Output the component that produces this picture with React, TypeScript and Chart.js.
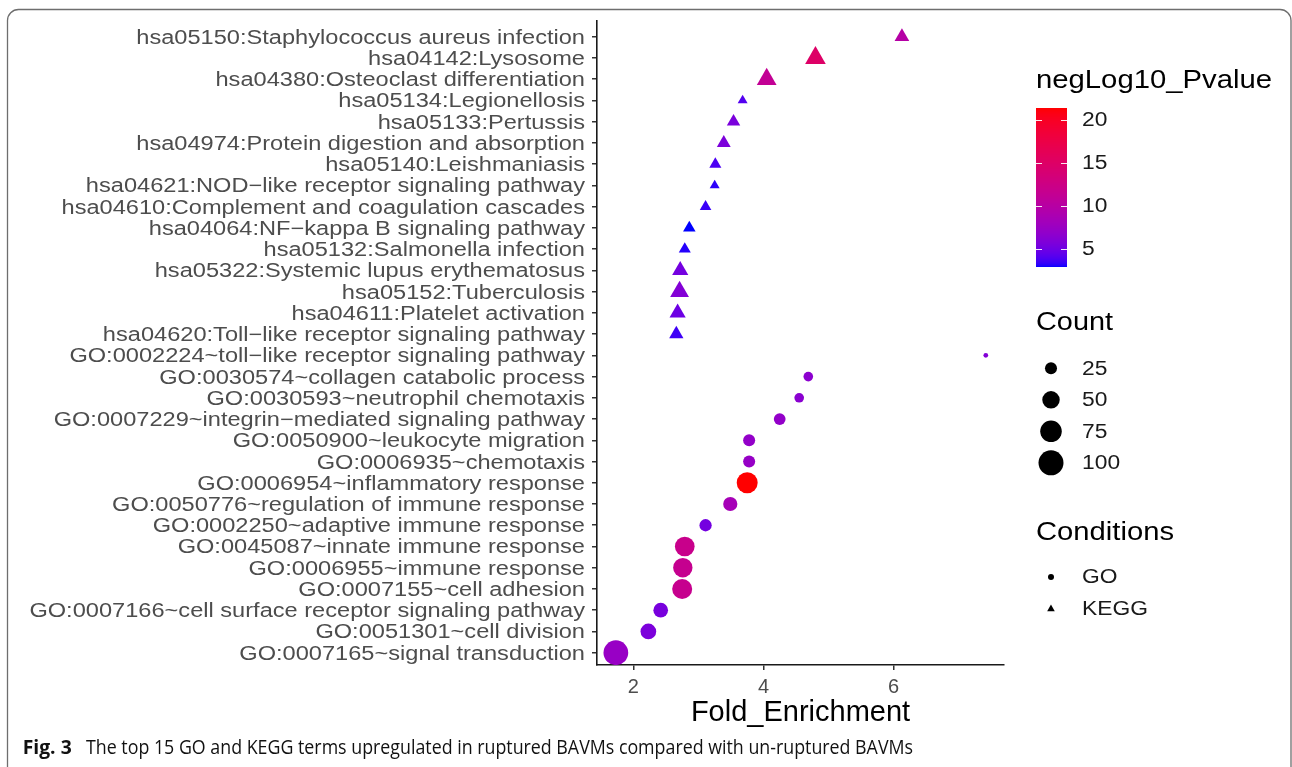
import React, { useEffect, useRef } from "react";
import { Chart, registerables } from "chart.js";

Chart.register(...registerables);

// ---------------- data (top row first) ----------------
const TERMS: string[] = [
  "hsa05150:Staphylococcus aureus infection",
  "hsa04142:Lysosome",
  "hsa04380:Osteoclast differentiation",
  "hsa05134:Legionellosis",
  "hsa05133:Pertussis",
  "hsa04974:Protein digestion and absorption",
  "hsa05140:Leishmaniasis",
  "hsa04621:NOD\u2212like receptor signaling pathway",
  "hsa04610:Complement and coagulation cascades",
  "hsa04064:NF\u2212kappa B signaling pathway",
  "hsa05132:Salmonella infection",
  "hsa05322:Systemic lupus erythematosus",
  "hsa05152:Tuberculosis",
  "hsa04611:Platelet activation",
  "hsa04620:Toll\u2212like receptor signaling pathway",
  "GO:0002224~toll\u2212like receptor signaling pathway",
  "GO:0030574~collagen catabolic process",
  "GO:0030593~neutrophil chemotaxis",
  "GO:0007229~integrin\u2212mediated signaling pathway",
  "GO:0050900~leukocyte migration",
  "GO:0006935~chemotaxis",
  "GO:0006954~inflammatory response",
  "GO:0050776~regulation of immune response",
  "GO:0002250~adaptive immune response",
  "GO:0045087~innate immune response",
  "GO:0006955~immune response",
  "GO:0007155~cell adhesion",
  "GO:0007166~cell surface receptor signaling pathway",
  "GO:0051301~cell division",
  "GO:0007165~signal transduction",
];

const FOLD_ENRICHMENT: number[] = [
  6.13, 4.8, 4.05, 3.68, 3.54, 3.39, 3.26, 3.25, 3.11, 2.86, 2.79, 2.72, 2.71, 2.68, 2.66,
  7.42, 4.69, 4.55, 4.25, 3.78, 3.78, 3.75, 3.49, 3.11, 2.79, 2.76, 2.75, 2.42, 2.23, 1.73,
];

const COUNT: number[] = [
  21, 39, 36, 11, 18, 19, 15, 11, 14, 16, 15, 25, 33, 25, 20,
  6, 17, 17, 24, 25, 25, 71, 34, 26, 63, 61, 65, 36, 41, 98,
];

const NEG_LOG10_PVALUE: number[] = [
  9.8, 14.9, 11.2, 4.0, 5.5, 5.6, 3.8, 3.2, 3.4, 2.86, 3.1, 5.2, 6.0, 4.9, 3.5,
  6.0, 6.5, 6.4, 7.0, 7.0, 7.2, 21.35, 8.4, 5.2, 11.9, 11.6, 11.7, 5.4, 5.6, 7.3,
];

const CONDITION: string[] = [
  "KEGG", "KEGG", "KEGG", "KEGG", "KEGG", "KEGG", "KEGG", "KEGG", "KEGG", "KEGG",
  "KEGG", "KEGG", "KEGG", "KEGG", "KEGG",
  "GO", "GO", "GO", "GO", "GO", "GO", "GO", "GO", "GO", "GO",
  "GO", "GO", "GO", "GO", "GO",
];

const X_TICKS: number[] = [2, 4, 6];
const COLOR_BREAKS: number[] = [5, 10, 15, 20];
const SIZE_BREAKS: number[] = [25, 50, 75, 100];
const CONDITION_LEVELS: string[] = ["GO", "KEGG"];

const X_TITLE = "Fold_Enrichment";
const COLOR_TITLE = "negLog10_Pvalue";
const SIZE_TITLE = "Count";
const SHAPE_TITLE = "Conditions";
const CAPTION_BOLD = "Fig. 3";
const CAPTION_TEXT =
  "The top 15 GO and KEGG terms upregulated in ruptured BAVMs compared with un-ruptured BAVMs";

// ---------------- styles ----------------
const W = 1292;
const H = 767;
const SANS = '"Liberation Sans", Arial, Helvetica, sans-serif';
const CAPTION_FONT = '"Open Sans", "Noto Sans", sans-serif';
const AXIS_TEXT = "#4d4d4d";
const LOW_COLOR: [number, number, number] = [0, 0, 255];
const HIGH_COLOR: [number, number, number] = [255, 0, 0];
const COLOR_MIN = Math.min(...NEG_LOG10_PVALUE);
const COLOR_MAX = Math.max(...NEG_LOG10_PVALUE);

// ---- Lab interpolation (like ggplot's gradient) ----
const toLin = (c: number) => {
  const v = c / 255;
  return v <= 0.04045 ? v / 12.92 : Math.pow((v + 0.055) / 1.055, 2.4);
};
const fromLin = (c: number) => {
  const v = c <= 0.0031308 ? 12.92 * c : 1.055 * Math.pow(c, 1 / 2.4) - 0.055;
  return Math.round(Math.min(1, Math.max(0, v)) * 255);
};
const WX = 0.95047, WY = 1.0, WZ = 1.08883;
function rgbToLab(rgb: [number, number, number]): [number, number, number] {
  const R = toLin(rgb[0]), G = toLin(rgb[1]), B = toLin(rgb[2]);
  const X = 0.4124564 * R + 0.3575761 * G + 0.1804375 * B;
  const Y = 0.2126729 * R + 0.7151522 * G + 0.072175 * B;
  const Z = 0.0193339 * R + 0.119192 * G + 0.9503041 * B;
  const f = (t: number) => (t > 0.008856 ? Math.cbrt(t) : 7.787 * t + 16 / 116);
  const fx = f(X / WX), fy = f(Y / WY), fz = f(Z / WZ);
  return [116 * fy - 16, 500 * (fx - fy), 200 * (fy - fz)];
}
function labToRgb(lab: [number, number, number]): [number, number, number] {
  const fy = (lab[0] + 16) / 116;
  const fx = fy + lab[1] / 500;
  const fz = fy - lab[2] / 200;
  const fi = (t: number) => (t * t * t > 0.008856 ? t * t * t : (t - 16 / 116) / 7.787);
  const X = WX * fi(fx), Y = WY * fi(fy), Z = WZ * fi(fz);
  const R = 3.2404542 * X - 1.5371385 * Y - 0.4985314 * Z;
  const G = -0.969266 * X + 1.8760108 * Y + 0.041556 * Z;
  const B = 0.0556434 * X - 0.2040259 * Y + 1.0572252 * Z;
  return [fromLin(R), fromLin(G), fromLin(B)];
}
const LAB_LOW = rgbToLab(LOW_COLOR);
const LAB_HIGH = rgbToLab(HIGH_COLOR);
function colorFor(v: number): string {
  const t = Math.min(1, Math.max(0, (v - COLOR_MIN) / (COLOR_MAX - COLOR_MIN)));
  const lab: [number, number, number] = [
    LAB_LOW[0] + (LAB_HIGH[0] - LAB_LOW[0]) * t,
    LAB_LOW[1] + (LAB_HIGH[1] - LAB_LOW[1]) * t,
    LAB_LOW[2] + (LAB_HIGH[2] - LAB_LOW[2]) * t,
  ];
  const [r, g, b] = labToRgb(lab);
  return `rgb(${r},${g},${b})`;
}

// size scale: point area grows linearly with count
function diameterFor(count: number): number {
  return Math.sqrt(Math.max(1, 6.41 * count - 16));
}
function radiusFor(count: number, shape: string): number {
  const d = diameterFor(count);
  return shape === "KEGG" ? 0.778 * d : d / 2;
}

// legend / layout geometry
const LEGEND_X = 1036;
const BAR = { x: 1036, y: 108, w: 31, h: 159 };
const LABEL_X = 1082;

function drawText(
  ctx: CanvasRenderingContext2D,
  text: string,
  x: number,
  y: number,
  font: string,
  color: string,
  sx: number,
  align: CanvasTextAlign = "left"
) {
  ctx.save();
  ctx.font = font;
  ctx.fillStyle = color;
  ctx.textAlign = align;
  ctx.textBaseline = "middle";
  ctx.translate(x, y);
  ctx.scale(sx, 1);
  ctx.fillText(text, 0, 0);
  ctx.restore();
}

function drawTextToWidth(
  ctx: CanvasRenderingContext2D,
  text: string,
  x: number,
  y: number,
  font: string,
  color: string,
  width: number
) {
  ctx.save();
  ctx.font = font;
  const m = ctx.measureText(text).width;
  ctx.restore();
  drawText(ctx, text, x, y, font, color, width / m, "left");
}

const decorPlugin = {
  id: "decor",
  beforeDraw(chart: any) {
    const ctx: CanvasRenderingContext2D = chart.ctx;
    ctx.save();
    ctx.fillStyle = "#ffffff";
    ctx.fillRect(0, 0, W, H);
    // rounded frame
    ctx.strokeStyle = "#6e6e6e";
    ctx.lineWidth = 1.3;
    ctx.beginPath();
    (ctx as any).roundRect(7.5, 9.5, 1283.5, 772, 11);
    ctx.stroke();
    ctx.restore();
  },
  afterDraw(chart: any) {
    const ctx: CanvasRenderingContext2D = chart.ctx;
    const yScale = chart.scales.y;
    const area = chart.chartArea;
    const n = TERMS.length;

    // y-axis category labels
    TERMS.forEach((label, i) => {
      const py = yScale.getPixelForValue(n - i);
      drawText(ctx, label, area.left - 12, py + 1.5, `20px ${SANS}`, AXIS_TEXT, 1.18, "right");
    });

    // ---- colour bar legend ----
    drawTextToWidth(ctx, COLOR_TITLE, LEGEND_X, 81, `26px ${SANS}`, "#000", 236);
    for (let k = 0; k < BAR.h; k++) {
      const v = COLOR_MAX - ((k + 0.5) / BAR.h) * (COLOR_MAX - COLOR_MIN);
      ctx.fillStyle = colorFor(v);
      ctx.fillRect(BAR.x, BAR.y + k, BAR.w, 1);
    }
    COLOR_BREAKS.forEach((v) => {
      const py = BAR.y + ((COLOR_MAX - v) / (COLOR_MAX - COLOR_MIN)) * BAR.h;
      ctx.save();
      ctx.strokeStyle = "rgba(255,255,255,0.9)";
      ctx.lineWidth = 1;
      ctx.beginPath();
      ctx.moveTo(BAR.x, Math.round(py) + 0.5);
      ctx.lineTo(BAR.x + 6, Math.round(py) + 0.5);
      ctx.moveTo(BAR.x + BAR.w - 6, Math.round(py) + 0.5);
      ctx.lineTo(BAR.x + BAR.w, Math.round(py) + 0.5);
      ctx.stroke();
      ctx.restore();
      drawText(ctx, String(v), LABEL_X, py + 1, `19.5px ${SANS}`, "#1a1a1a", 1.17);
    });

    // ---- size legend ----
    drawTextToWidth(ctx, SIZE_TITLE, LEGEND_X, 323, `26px ${SANS}`, "#000", 77);
    SIZE_BREAKS.forEach((c, i) => {
      const cy = 368.3 + i * 31.5;
      ctx.save();
      ctx.fillStyle = "#000";
      ctx.beginPath();
      ctx.arc(1051, cy, diameterFor(c) / 2, 0, Math.PI * 2);
      ctx.fill();
      ctx.restore();
      drawText(ctx, String(c), LABEL_X, cy + 1, `19.5px ${SANS}`, "#1a1a1a", 1.17);
    });

    // ---- shape legend ----
    drawTextToWidth(ctx, SHAPE_TITLE, LEGEND_X, 533, `26px ${SANS}`, "#000", 138);
    CONDITION_LEVELS.forEach((lvl, i) => {
      const cy = 577 + i * 32;
      ctx.save();
      ctx.fillStyle = "#000";
      ctx.beginPath();
      if (lvl === "KEGG") {
        const r = 4.4;
        ctx.moveTo(1051, cy - r);
        ctx.lineTo(1051 + r * 0.866, cy + r / 2);
        ctx.lineTo(1051 - r * 0.866, cy + r / 2);
        ctx.closePath();
      } else {
        ctx.arc(1051, cy, 3, 0, Math.PI * 2);
      }
      ctx.fill();
      ctx.restore();
      drawText(ctx, lvl, LABEL_X, cy + 1, `19.5px ${SANS}`, "#1a1a1a", 1.17);
    });

    // ---- caption ----
    drawTextToWidth(ctx, CAPTION_BOLD, 22.7, 748, `bold 20px ${CAPTION_FONT}`, "#111", 49);
    drawTextToWidth(ctx, CAPTION_TEXT, 86, 748, `20px ${CAPTION_FONT}`, "#111", 827);
  },
};

export default function App() {
  const ref = useRef<HTMLCanvasElement | null>(null);

  useEffect(() => {
    const canvas = ref.current;
    if (!canvas) return;
    const n = TERMS.length;
    const points = TERMS.map((_, i) => ({ x: FOLD_ENRICHMENT[i], y: n - i }));

    const chart = new Chart(canvas, {
      type: "scatter",
      data: {
        datasets: [
          {
            data: points,
            pointStyle: (c: any) => (CONDITION[c.dataIndex] === "KEGG" ? "triangle" : "circle"),
            pointRadius: (c: any) => radiusFor(COUNT[c.dataIndex], CONDITION[c.dataIndex]),
            pointHoverRadius: (c: any) => radiusFor(COUNT[c.dataIndex], CONDITION[c.dataIndex]),
            pointBackgroundColor: (c: any) => colorFor(NEG_LOG10_PVALUE[c.dataIndex]),
            pointBorderWidth: 0,
            pointHoverBorderWidth: 0,
          } as any,
        ],
      },
      options: {
        responsive: false,
        animation: false,
        devicePixelRatio: 1,
        events: [],
        layout: { padding: { left: 0, right: 288, top: 21, bottom: 37 } },
        plugins: { legend: { display: false }, tooltip: { enabled: false } },
        scales: {
          x: {
            type: "linear",
            min: 1.44,
            max: 7.7,
            afterBuildTicks: (s: any) => {
              s.ticks = X_TICKS.map((v) => ({ value: v }));
            },
            afterFit: (s: any) => {
              s.height = 65;
            },
            grid: {
              drawOnChartArea: false,
              drawTicks: true,
              tickLength: 5,
              color: "#333",
              tickColor: "#333",
              lineWidth: 1.5,
            },
            border: { display: true, color: "#1a1a1a", width: 1.6 },
            ticks: {
              color: AXIS_TEXT,
              font: { family: SANS, size: 20 },
              padding: 5,
              maxRotation: 0,
              autoSkip: false,
            },
            title: {
              display: true,
              text: X_TITLE,
              color: "#000",
              font: { family: SANS, size: 29 },
              padding: { top: 0, bottom: 0 },
            },
          },
          y: {
            type: "linear",
            min: 0.42,
            max: 30.74,
            afterBuildTicks: (s: any) => {
              s.ticks = TERMS.map((_, i) => ({ value: i + 1 }));
            },
            afterFit: (s: any) => {
              s.width = 597;
            },
            grid: {
              drawOnChartArea: false,
              drawTicks: true,
              tickLength: 5,
              color: "#333",
              tickColor: "#333",
              lineWidth: 1.5,
            },
            border: { display: true, color: "#1a1a1a", width: 1.6 },
            ticks: { display: false },
          },
        },
      } as any,
      plugins: [decorPlugin],
    });
    return () => chart.destroy();
  }, []);

  return (
    <canvas
      ref={ref}
      width={W}
      height={H}
      style={{ position: "fixed", left: 0, top: 0, width: W, height: H, display: "block" }}
    />
  );
}
